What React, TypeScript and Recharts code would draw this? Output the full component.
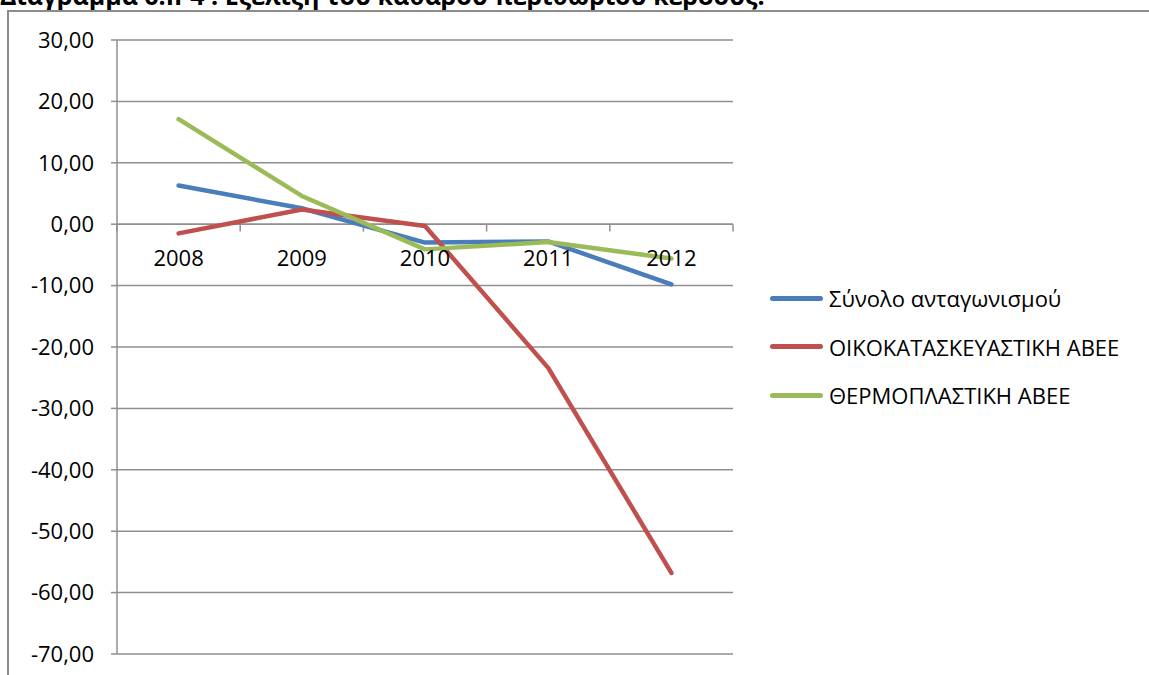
import React from 'react';
import { LineChart, Line, XAxis, YAxis, CartesianGrid, ReferenceLine, ReferenceDot, Legend } from 'recharts';

const categories = ['2008', '2009', '2010', '2011', '2012'];
const totalCompetition = [6.3, 2.6, -3.0, -2.8, -9.8];
const oikokataskevastiki = [-1.5, 2.4, -0.3, -23.4, -56.8];
const thermoplastiki = [17.1, 4.6, -4.1, -2.9, -5.6];
const yTicks = [30, 20, 10, 0, -10, -20, -30, -40, -50, -60, -70];
const boundaryTicks = [-0.5, 0.5, 1.5, 2.5, 3.5, 4.5];

const seriesNames = ['Σύνολο ανταγωνισμού', 'ΟΙΚΟΚΑΤΑΣΚΕΥΑΣΤΙΚΗ ΑΒΕΕ', 'ΘΕΡΜΟΠΛΑΣΤΙΚΗ ΑΒΕΕ'];
const colors = ['#4A7EBB', '#C0504D', '#9BBB59'];
const title = 'Διάγραμμα 6.ΙΙ-4 : Εξέλιξη του καθαρού περιθωρίου κέρδους.';

const data = categories.map((c, i) => ({
  idx: i,
  cat: c,
  s0: totalCompetition[i],
  s1: oikokataskevastiki[i],
  s2: thermoplastiki[i],
}));

const FONT = '"Open Sans", sans-serif';
const GRID = '#8f8f8f';

const fmt = (v: number) => v.toFixed(2).replace('.', ',');

const LegendContent = (props: any) => {
  const payload = props.payload || [];
  return (
    <div style={{ position: 'absolute', left: 0, top: 0, width: 379, fontFamily: FONT, fontSize: 22, color: '#000' }}>
      {payload.map((p: any, i: number) => (
        <div key={i} style={{ display: 'flex', alignItems: 'center', height: 48.5 }}>
          <span style={{ display: 'inline-block', width: 53, height: 5, borderRadius: 2.5, background: p.color }} />
          <span style={{ marginLeft: 6, whiteSpace: 'nowrap' }}>{p.value}</span>
        </div>
      ))}
    </div>
  );
};

export default function App() {
  return (
    <div style={{ position: 'absolute', left: 0, top: 0, width: 1149, height: 675, overflow: 'hidden', background: '#fff' }}>
      <svg width={1149} height={20} style={{ position: 'absolute', left: 0, top: 0 }}>
        <text x={0} y={5} fontFamily={FONT} fontWeight={700} fontSize={25} fill="#000">{title}</text>
      </svg>
      <div style={{ position: 'absolute', left: 7, top: 10, width: 1160, height: 700, borderLeft: '2px solid #8c8c8c', borderTop: '2px solid #8c8c8c' }} />
      <div style={{ position: 'absolute', left: 0, top: 0 }}>
        <LineChart width={1149} height={675} data={data} margin={{ top: 40, right: 416, bottom: 21, left: 0 }}>
          <CartesianGrid vertical={false} stroke={GRID} strokeWidth={1.5} />
          <XAxis dataKey="idx" type="number" domain={[-0.5, 4.5]} hide />
          <YAxis
            width={117}
            domain={[-70, 30]}
            ticks={yTicks}
            interval={0}
            tickFormatter={fmt}
            tickSize={6}
            tickMargin={17}
            axisLine={{ stroke: GRID, strokeWidth: 1.5 }}
            tickLine={{ stroke: GRID, strokeWidth: 1.5 }}
            tick={{ fill: '#000', fontSize: 22, fontFamily: FONT }}
          />
          <ReferenceLine y={0} stroke={GRID} strokeWidth={1.5} />
          {boundaryTicks.map((b) => (
            <ReferenceLine
              key={'t' + b}
              segment={[{ x: b, y: 0 }, { x: b, y: -1.2 }]}
              stroke={GRID}
              strokeWidth={1.5}
            />
          ))}
          <Legend
            layout="vertical"
            itemSorter="dataKey"
            content={<LegendContent />}
            wrapperStyle={{ left: 770, top: 274, width: 0, height: 0, right: 'auto', bottom: 'auto', overflow: 'visible' }}
          />
          <Line name={seriesNames[0]} dataKey="s0" stroke={colors[0]} strokeWidth={4.5} dot={false} isAnimationActive={false} strokeLinecap="round" strokeLinejoin="round" />
          <Line name={seriesNames[1]} dataKey="s1" stroke={colors[1]} strokeWidth={4.5} dot={false} isAnimationActive={false} strokeLinecap="round" strokeLinejoin="round" />
          <Line name={seriesNames[2]} dataKey="s2" stroke={colors[2]} strokeWidth={4.5} dot={false} isAnimationActive={false} strokeLinecap="round" strokeLinejoin="round" />
          {categories.map((c, i) => (
            <ReferenceDot
              key={'c' + c}
              x={i}
              y={0}
              r={0}
              fill="none"
              stroke="none"
              label={(p: any) => (
                <text x={p.viewBox.x} y={p.viewBox.y + 42} textAnchor="middle" fontFamily={FONT} fontSize={22} fill="#000">{c}</text>
              )}
            />
          ))}
        </LineChart>
      </div>
    </div>
  );
}
